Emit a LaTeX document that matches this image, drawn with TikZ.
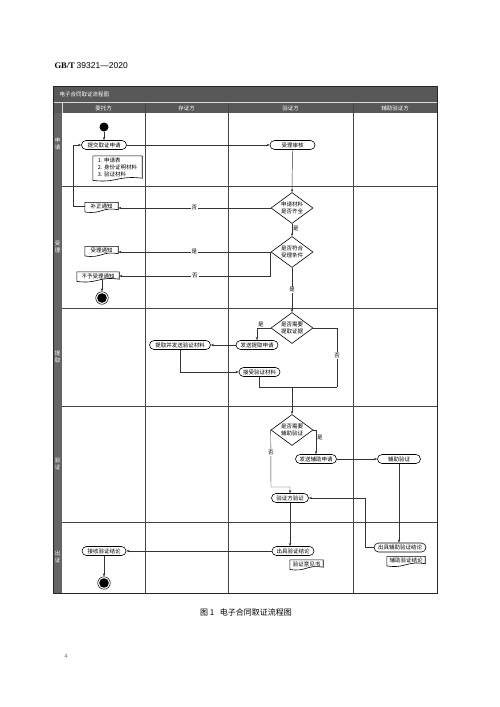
\documentclass[tikz,border=0pt]{standalone}
\usepackage{fontspec}
\setmainfont{Noto Sans CJK SC}
\newfontfamily\serifb{Liberation Serif}
\newfontfamily\sansf{Liberation Sans}
\usetikzlibrary{shapes.geometric,arrows.meta,calc}

\definecolor{barc}{RGB}{88,88,88}
\definecolor{stripc}{RGB}{100,100,100}
\definecolor{gridc}{RGB}{70,70,70}

\tikzset{
 every node/.style={font=\fontsize{5.5}{6.5}\selectfont},
 proc/.style={draw=black, line width=0.6pt, rectangle, rounded corners=4.5pt, inner sep=0pt, minimum height=9pt},
 doc/.style={inner sep=0pt, minimum height=8pt},
 dec/.style={draw=black, line width=0.6pt, diamond, inner sep=0pt, aspect=1.35, minimum width=42pt, minimum height=31pt, align=center},
 conn/.style={draw=black!80, line width=0.45pt},
 arr/.style={conn, -{Stealth[length=3.2pt,width=2.4pt]}},
 lbl/.style={fill=white, inner sep=1pt},
 lanelbl/.style={text=white, align=center, font=\fontsize{5.5}{6.5}\selectfont},
 hdr/.style={text=white, font=\fontsize{5.5}{6}\selectfont},
 startc/.style={circle, fill=black, minimum size=9pt, inner sep=0pt},
 endc/.style={circle, draw=black, line width=0.5pt, minimum size=12.5pt, inner sep=0pt,
   path picture={\fill[black] (path picture bounding box.center) circle (4.8pt);}},
 gridl/.style={draw=gridc, line width=0.5pt},
}
\newcommand\docshape[1]{\draw[line width=0.6pt] (#1.north west) -- (#1.north east) -- ([yshift=1pt]#1.south east) .. controls ($(#1.south)+(0pt,4pt)$) and ($(#1.south)+(0pt,-4pt)$) .. ([yshift=-1.2pt]#1.south west) -- cycle;}

\begin{document}
\begin{tikzpicture}[x=1pt,y=-1pt]
\useasboundingbox (0,0) rectangle (500,707);
\fill[white] (0,0) rectangle (500,707);

% header text
\node[anchor=west] (std) at (51,66) {\fontsize{8.5}{10}\selectfont{\serifb\bfseries GB/T}\ {\sansf 39321—2020}};

% frame
\fill[barc] (53,86) rectangle (437,102);
\fill[barc] (53,102) rectangle (437,113);
\fill[stripc] (53,113) rectangle (62,593);
\draw[gridl] (145,102) -- (145,593);
\draw[gridl] (228,102) -- (228,593);
\draw[gridl] (353,102) -- (353,593);
\draw[draw=white!70!gray, line width=0.4pt] (53,102) -- (437,102);
\draw[draw=white!70!gray, line width=0.4pt] (62,102) -- (62,113);
\draw[gridl] (62,186) -- (437,186);
\draw[gridl] (62,308) -- (437,308);
\draw[gridl] (62,406) -- (437,406);
\draw[gridl] (62,522) -- (437,522);
\draw[draw=black!85, line width=0.9pt] (53,86) rectangle (437,593);

\node[hdr, anchor=west] (title) at (56,94.5) {电子合同取证流程图};
\node[hdr] (h1) at (103.5,108) {委托方};
\node[hdr] (h2) at (186.5,108) {存证方};
\node[hdr] (h3) at (290.5,108) {验证方};
\node[hdr] (h4) at (395,108) {辅助验证方};

\node[lanelbl] (l1) at (57.5,144) {申\\请};
\node[lanelbl] (l2) at (57.5,247) {受\\理};
\node[lanelbl] (l3) at (57.5,357) {提\\取};
\node[lanelbl] (l4) at (57.5,464) {验\\证};
\node[lanelbl] (l5) at (57.5,557) {出\\证};

% nodes
\node[startc] (s0) at (104,127) {};
\node[proc, minimum width=45pt] (tj) at (104,145) {提交取证申请};
\node[doc, minimum width=49pt, minimum height=23pt, align=left, font=\fontsize{5.5}{7}\selectfont] (cl) at (117.5,167.5) {1. 申请表\\2. 身份证明材料\\3. 验证材料};
\docshape{cl}
\node[proc, minimum width=45pt] (sh) at (292.5,145) {受理审核};
\node[dec] (d1) at (292,208) {申请材料\\是否齐全};
\node[doc, minimum width=33pt] (bz) at (101.5,206.5) {补正通知};
\docshape{bz}
\node[dec] (d2) at (292,252) {是否符合\\受理条件};
\node[doc, minimum width=33pt] (sl) at (101.5,250.5) {受理通知};
\docshape{sl}
\node[doc, minimum width=42pt] (by) at (98,276) {不予受理通知};
\docshape{by}
\node[endc] (e1) at (102,298) {};

\node[dec] (d3) at (292,328) {是否需要\\提取证据};
\node[proc, minimum width=42pt] (fq) at (257,345) {发送提取申请};
\node[proc, minimum width=61pt] (tq) at (180,345) {提取并发送验证材料};
\node[proc, minimum width=41pt] (js) at (259.5,372) {接受验证材料};
\coordinate (m) at (292,387);
\coordinate (r) at (337,387);

\node[dec] (d4) at (292,430) {是否需要\\辅助验证};
\node[proc, minimum width=41pt] (fz) at (316,459) {发送辅助申请};
\node[proc, minimum width=43pt] (fy) at (399,459) {辅助验证};
\node[proc, minimum width=37pt] (yz) at (290,498) {验证方验证};
\coordinate (k) at (271,487);

\node[proc, minimum width=52pt] (cf) at (400,547.5) {出具辅助验证结论};
\node[doc, minimum width=38pt] (fzjl) at (406,560.5) {辅助验证结论};
\docshape{fzjl}
\node[proc, minimum width=42pt] (cj) at (293,551) {出具验证结论};
\node[doc, minimum width=33pt] (yjs) at (306.5,564) {验证意见书};
\docshape{yjs}
\node[proc, minimum width=44pt] (jsj) at (104,551) {接收验证结论};
\node[endc] (e2) at (104,583) {};

% connectors
\draw[arr] (s0) -- (tj.north);
\draw[arr] (tj.east) -- (sh.west);
\draw[arr] (sh.south) -- (d1.north);
\draw[arr] (d1.west) -- node[lbl]{否} (d1.west -| bz.east);
\draw[arr] (bz.west) -- ++(-12,0) |- (tj.west);
\draw[arr] (d1.south) -- node[right, pos=0.35, inner sep=1pt]{是} (d2.north);
\draw[arr] (d2.west) -- node[lbl]{是} (d2.west -| sl.east);
\draw[arr] (d2.west) |- node[lbl, pos=0.75]{否} (by.east);
\draw[arr] (by.south -| e1) -- (e1.north);
\draw[arr] (d2.south) -- node[lbl]{是} (d3.north);
\draw[arr] (d3.west) -| node[pos=0.5, anchor=south west, inner sep=1pt]{是} (fq.north);
\draw[arr] (fq.west) -- (tq.east);
\draw[arr] (tq.south) |- (js.west);
\draw[conn] (js.south) |- (r);
\draw[conn] (d3.east) -| node[lbl, pos=0.73]{否} (r);
\draw[arr] (m) -- (d4.north);
\draw[arr] (d4.east) -| node[right, pos=0.66, inner sep=1pt]{是} (fz.north);
\draw[arr] (fz.east) -- (fy.west);
\draw[arr] (d4.west) -- node[lbl, pos=0.4]{否} (k) -| (yz.north);
\draw[arr] (fy.south) -- (fy.south |- cf.north);
\draw[arr] (cf.west) -- ++(-8,0) |- (yz.east);
\draw[arr] (yz.south) -- (yz.south |- cj.north);
\draw[arr] (cj.west) -- (jsj.east);
\draw[arr] (jsj.south) -- (e2.north);

% caption and page number
\node (cap) at (246,612) {\fontsize{8}{9}\selectfont 图\ 1\ \ \ 电子合同取证流程图};
\node[text=black!55] (pg) at (66,656) {\fontsize{6}{7}\selectfont 4};
\end{tikzpicture}
\end{document}
